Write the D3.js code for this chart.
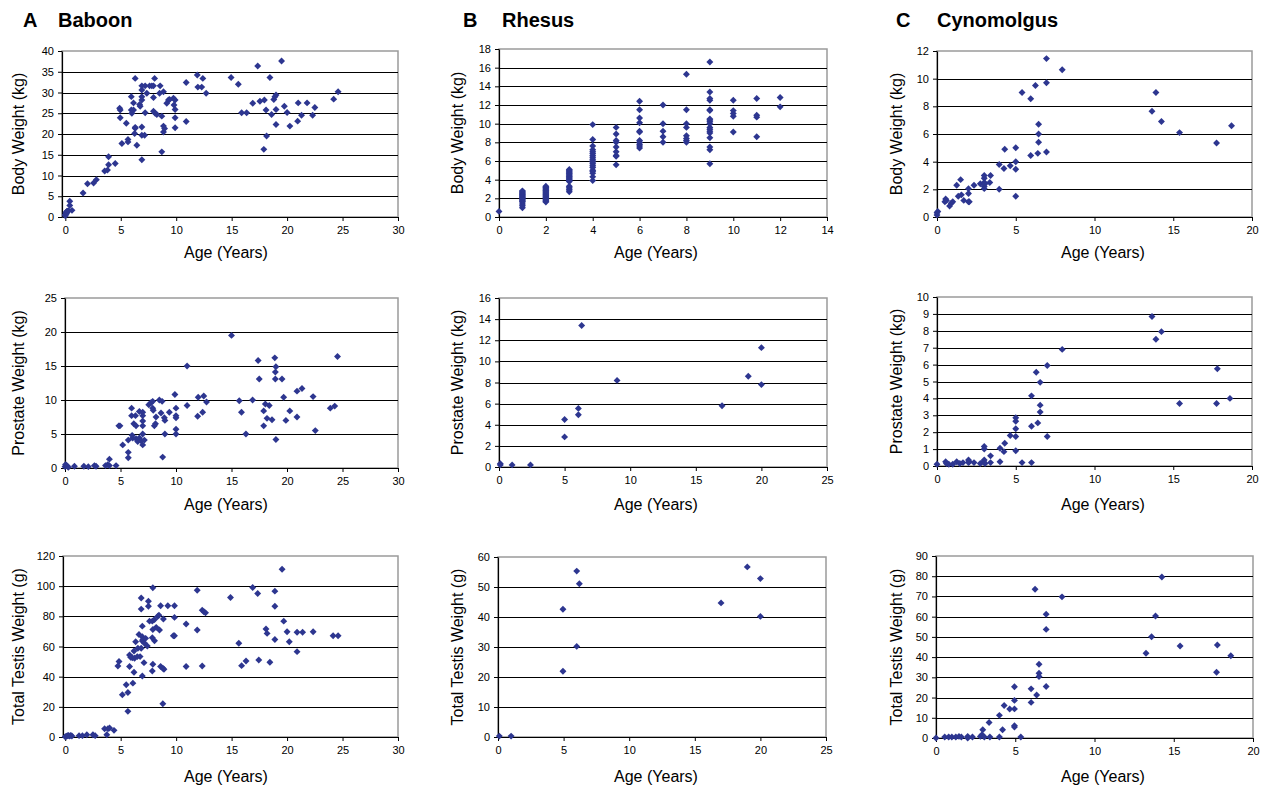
<!DOCTYPE html>
<html>
<head>
<meta charset="utf-8">
<script src="https://cdn.jsdelivr.net/npm/d3@7"></script>
<style>
  body { margin: 0; background: #fff; }
  svg { display: block; font-family: "Liberation Sans", Arial, sans-serif; }
</style>
</head>
<body>
<div id="chart"></div>
<script>

// species titles and axis labels
const letters = ['A', 'B', 'C'];
const species = ['Baboon', 'Rhesus', 'Cynomolgus'];
const yLabels = ['Body Weight (kg)', 'Prostate Weight (kg)', 'Total Testis Weight (g)'];
const xLabel = 'Age (Years)';

// tick values per panel (row by row)
const xTicks30 = [0, 5, 10, 15, 20, 25, 30];
const xTicks25 = [0, 5, 10, 15, 20, 25];
const xTicks20 = [0, 5, 10, 15, 20];
const xTicks14 = [0, 2, 4, 6, 8, 10, 12, 14];

const yTicksBabBody = [0, 5, 10, 15, 20, 25, 30, 35, 40];
const yTicksRheBody = [0, 2, 4, 6, 8, 10, 12, 14, 16, 18];
const yTicksCynBody = [0, 2, 4, 6, 8, 10, 12];
const yTicksBabPros = [0, 5, 10, 15, 20, 25];
const yTicksRhePros = [0, 2, 4, 6, 8, 10, 12, 14, 16];
const yTicksCynPros = [0, 1, 2, 3, 4, 5, 6, 7, 8, 9, 10];
const yTicksBabTest = [0, 20, 40, 60, 80, 100, 120];
const yTicksRheTest = [0, 10, 20, 30, 40, 50, 60];
const yTicksCynTest = [0, 10, 20, 30, 40, 50, 60, 70, 80, 90];

// data: [age (years), weight]
const baboonBody = [[0,0.3],[0,0.6],[0.05,1.0],[0.1,1.2],[0.2,1.4],[0.3,1.5],[0.1,0.8],[0.4,3.8],[0.4,2.8],[0.6,1.6],[0.15,1.4],
  [1.6,5.8],[2.0,8.0],[2.55,8.2],[2.8,9.0],[3.55,11.1],[3.8,11.3],[3.9,14.5],[3.9,12.6],[4.5,12.9],
  [4.95,25.8],[4.9,26.2],[4.95,23.9],[5.1,17.7],[5.5,22.6],[5.65,18.1],[5.65,18.7],[5.95,29.0],[5.95,25.8],[6.0,25.0],
  [6.15,25.8],[6.15,27.5],[6.25,20.1],[6.3,21.4],[6.3,21.6],[6.3,33.4],[6.45,17.3],[6.7,27.1],[6.75,26.7],[6.9,28.2],
  [6.9,30.6],[6.9,31.6],[6.9,29.0],[6.9,21.7],[6.9,13.8],[6.9,19.7],[7.2,31.6],[7.15,19.7],[7.2,25.1],[7.6,31.6],
  [7.35,29.8],[7.8,31.6],[7.95,31.6],[7.95,28.8],[8.05,33.4],[7.95,25.5],[8.1,25.0],[8.25,24.7],[8.5,29.8],[8.55,31.6],
  [8.7,24.3],[8.7,15.7],[8.85,30.2],[8.85,21.9],[8.85,20.5],[8.95,21.3],[9.15,27.4],[9.3,28.2],[9.4,28.3],[9.75,28.6],
  [9.9,28.2],[9.8,27.0],[9.9,25.9],[9.9,23.9],[9.9,21.5],[10.9,23.0],[10.9,32.4],[11.9,34.2],[11.95,31.3],[12.3,31.3],
  [12.4,33.4],[12.7,29.8],[14.95,33.6],[15.6,32.0],[15.9,25.1],[16.35,25.1],[16.9,27.4],[17.35,36.4],[17.55,27.9],[17.95,28.2],
  [17.9,16.3],[18.1,25.8],[18.15,19.5],[18.45,33.6],[18.6,24.7],[18.8,28.3],[18.9,29.0],[19.0,29.4],[19.0,25.9],[19.0,22.3],
  [19.5,37.6],[19.75,26.7],[20.0,25.2],[20.25,21.9],[20.95,23.1],[21.0,27.5],[21.3,24.5],[21.8,27.5],[22.3,24.5],[22.5,26.4],
  [24.2,28.4],[24.6,30.2]];

const rhesusBody = [[0,0.6],
  [1,1.0],[1,1.2],[1,1.4],[1,1.6],[1,1.7],[1,1.8],[1,1.9],[1,2.0],[1,2.1],[1,2.2],[1,2.3],[1,2.4],[1,2.5],[1,2.6],[1,2.7],[1,2.8],
  [2,1.6],[2,1.7],[2,1.8],[2,1.9],[2,2.0],[2,2.1],[2,2.2],[2,2.3],[2,2.4],[2,2.5],[2,2.6],[2,2.7],[2,2.8],[2,2.9],[2,3.0],[2,3.1],[2,3.2],[2,3.3],
  [3,2.7],[3,2.9],[3,3.0],[3,3.2],[3,3.3],[3,3.8],[3,3.9],[3,4.0],[3,4.1],[3,4.2],[3,4.3],[3,4.4],[3,4.5],[3,4.6],[3,4.7],[3,4.8],[3,4.9],[3,5.0],[3,5.1],
  [4,3.9],[4,4.3],[4,4.7],[4,4.9],[4,5.0],[4,5.3],[4,5.5],[4,5.7],[4,5.9],[4,6.0],[4,6.2],[4,6.4],[4,6.6],[4,6.8],[4,7.0],[4,7.2],[4,7.6],[4,8.3],[4,9.9],
  [5,5.6],[5,6.5],[5,6.6],[5,7.0],[5,7.5],[5,8.0],[5,8.2],[5,8.9],[5,9.6],
  [6,7.4],[6,7.6],[6,7.8],[6,8.0],[6,8.2],[6,9.1],[6,9.2],[6,10.1],[6,10.6],[6,11.5],[6,12.4],
  [7,8.0],[7,8.6],[7,9.2],[7,10.0],[7,12.0],
  [8,8.0],[8,8.2],[8,8.4],[8,8.7],[8,9.6],[8,10.0],[8,11.5],[8,15.3],
  [9,5.7],[9,7.2],[9,7.5],[9,8.5],[9,9.0],[9,9.2],[9,9.4],[9,9.6],[9,10.0],[9,10.2],[9,10.4],[9,10.5],[9,11.4],[9,11.5],[9,12.5],[9,12.7],[9,13.4],[9,16.6],
  [10,9.1],[10,10.8],[10,11.1],[10,11.4],[10,12.5],
  [11,8.6],[11,10.7],[11,10.9],[11,12.7],
  [12,11.8],[12,12.8]];

const cynoBody = [[0,0.3],[0.05,0.4],[0,0.15],[0.5,1.1],[0.55,1.3],[0.6,1.2],[0.8,0.8],[0.9,1.0],[1.0,1.1],[1.25,2.3],
  [1.35,1.5],[1.5,2.7],[1.55,1.6],[1.7,1.2],[2.0,1.1],[2.0,1.7],[2.0,2.05],[2.05,1.1],[2.35,2.3],[2.75,2.4],
  [3.0,3.0],[3.0,2.8],[3.0,2.5],[3.0,2.2],[3.0,2.05],[3.05,2.4],[3.35,2.5],[3.4,3.0],[3.95,3.8],[3.95,2.0],
  [4.25,3.5],[4.3,4.9],[4.65,3.7],[5.0,5.0],[5.0,4.0],[5.0,3.45],[5.0,1.5],[5.4,9.0],[5.95,4.45],[5.95,8.55],
  [6.25,9.5],[6.4,4.6],[6.45,6.7],[6.45,6.0],[6.45,5.4],[6.95,11.45],[6.95,9.7],[6.95,4.7],[7.95,10.65],
  [13.65,7.65],[13.9,9.0],[14.25,6.9],[15.4,6.1],[17.75,5.35],[18.7,6.6]];

const baboonProstate = [[0,0.2],[0.1,0.4],[0.2,0.3],[0.3,0.1],[0.05,0.5],[0.85,0.25],[1.7,0.25],[2.1,0.2],[2.65,0.35],[2.8,0.25],
  [3.65,0.35],[3.85,0.5],[4.0,1.3],[4.0,0.35],[4.6,0.35],[4.85,6.2],[4.95,6.2],[5.2,3.4],[5.7,2.3],[5.7,1.5],
  [5.7,4.1],[6.0,8.8],[6.0,7.7],[6.05,4.8],[6.1,4.4],[6.2,6.5],[6.35,7.7],[6.4,6.2],[6.4,4.3],[6.55,3.9],
  [6.7,8.3],[6.7,4.4],[6.85,4.0],[7.0,5.0],[7.0,3.4],[7.0,6.2],[7.0,6.9],[7.0,7.7],[7.0,8.2],[7.15,4.1],
  [7.55,9.3],[7.75,9.6],[7.9,8.8],[7.95,8.5],[7.9,9.8],[8.05,6.2],[8.15,6.5],[8.2,7.5],[8.5,10.0],[8.65,8.1],
  [8.75,9.8],[8.8,1.6],[8.95,7.4],[9.0,7.0],[9.0,5.0],[9.4,8.2],[9.9,10.8],[10.0,8.8],[10.0,7.7],[10.0,7.4],
  [10.0,5.7],[10.0,5.0],[11.0,9.2],[11.0,15.0],[11.95,7.6],[12.0,10.4],[12.4,8.2],[12.5,10.6],[12.75,9.7],[15.0,19.5],
  [15.7,9.9],[15.9,8.2],[16.3,5.0],[16.9,10.0],[17.4,15.8],[17.5,13.1],[17.9,8.4],[17.9,6.2],[18.05,9.4],[18.2,7.3],
  [18.4,9.2],[18.65,7.1],[18.9,16.2],[19.0,14.9],[18.95,14.1],[18.95,13.1],[19.0,4.2],[19.55,13.1],[19.7,10.4],[19.9,7.0],
  [20.25,8.4],[20.9,11.3],[21.35,11.7],[20.9,7.5],[22.35,10.5],[22.55,5.5],[23.9,8.8],[24.3,9.1],[24.55,16.4]];

const rhesusProstate = [[0.1,0.3],[0.1,0.2],[1.0,0.2],[2.4,0.2],[5.0,4.5],[5.0,2.85],[6.05,5.55],[6.05,4.95],
  [6.3,13.4],[9.0,8.2],[17.0,5.8],[19.0,8.6],[20.0,7.8],[20.0,11.3]];

const cynoProstate = [[0,0.1],[0.55,0.25],[0.6,0.15],[0.75,0.1],[1.0,0.1],[1.25,0.25],[1.45,0.15],[1.65,0.2],[2.0,0.35],[2.0,0.2],
  [2.05,0.25],[2.35,0.2],[2.75,0.15],[2.95,0.25],[3.0,1.15],[3.0,1.0],[3.0,0.35],[3.05,0.15],[3.4,0.6],[3.4,0.2],
  [4.0,0.25],[4.0,1.05],[4.25,0.85],[4.3,1.35],[4.65,1.8],[5.0,2.85],[5.0,2.65],[5.0,2.2],[5.0,1.75],[5.0,0.9],
  [5.4,0.2],[6.0,0.2],[6.0,2.35],[6.0,4.15],[6.3,5.55],[6.4,2.55],[6.55,4.95],[6.55,3.6],[6.55,3.2],[7.0,1.75],
  [7.0,5.95],[7.95,6.9],[13.65,8.85],[13.9,7.5],[14.25,7.95],[15.4,3.7],[17.75,3.7],[17.8,5.75],[18.6,4.0]];

const baboonTestis = [[0,0.2],[0.1,0.5],[0.2,0.8],[0.3,1.0],[0.4,0.6],[0.5,1.1],[0.6,0.7],[1.25,0.9],[1.55,0.9],[1.95,1.5],
  [2.5,1.5],[2.7,0.9],[3.55,5.5],[3.75,1.5],[3.85,5.5],[4.0,6.0],[4.4,4.4],[4.75,47.1],[4.85,50.0],[5.15,28.0],
  [5.5,34.6],[5.65,29.5],[5.65,17.0],[5.8,46.7],[5.8,54.4],[5.9,52.8],[6.05,52.6],[6.1,35.7],[6.2,42.9],[6.2,57.0],
  [6.25,52.2],[6.35,63.2],[6.5,53.3],[6.55,58.8],[6.65,68.0],[6.75,53.3],[6.85,58.8],[6.95,63.6],[6.95,66.5],[6.95,40.5],
  [6.85,92.2],[6.85,84.8],[6.95,73.5],[7.0,64.7],[7.1,49.3],[7.15,62.1],[7.25,65.4],[7.4,60.3],[7.5,90.0],[7.5,86.7],
  [7.6,76.8],[7.85,76.8],[7.85,65.8],[7.9,71.3],[7.9,48.2],[7.85,43.8],[7.9,98.9],[8.05,77.9],[8.05,63.8],[8.2,72.7],
  [8.35,80.1],[8.45,80.8],[8.5,70.9],[8.6,87.0],[8.6,46.7],[8.8,45.6],[8.85,78.2],[8.8,22.0],[8.9,44.9],[9.25,87.0],
  [9.75,67.1],[9.85,87.0],[9.85,79.3],[9.85,67.1],[10.9,74.9],[10.9,46.7],[11.9,97.3],[11.9,70.9],[12.35,47.1],[12.35,84.1],
  [12.5,83.0],[12.65,82.3],[14.9,92.5],[15.65,62.1],[15.9,47.3],[16.3,50.4],[16.9,99.1],[17.35,95.1],[17.45,51.1],[18.45,49.5],
  [18.9,86.7],[18.9,96.7],[18.9,64.7],[18.1,71.6],[18.2,68.7],[19.55,111.2],[19.7,76.8],[20.0,69.8],[20.2,63.2],[20.9,56.6],
  [20.9,69.4],[21.4,69.4],[22.35,69.8],[24.15,67.1],[24.6,67.1]];

const rhesusTestis = [[0.1,0.3],[1.0,0.3],[4.95,21.9],[4.95,42.6],[6.0,30.2],[6.0,55.3],[6.2,51.1],[17.0,44.7],
  [19.0,56.7],[20.0,52.8],[20.0,40.2]];

const cynoTestis = [[0,0],[0.55,0.5],[0.8,0.5],[1.0,0.5],[1.25,0.5],[1.45,0.8],[1.6,0.5],[2.0,0.8],[2.0,0],[2.3,0.5],
  [2.8,0.8],[2.9,1.6],[2.95,4.1],[3.05,0.5],[3.35,7.7],[3.4,0.5],[4.0,11.2],[4.0,0.5],[4.2,4.1],[4.3,16.1],
  [4.65,14.3],[4.95,25.3],[4.95,18.6],[4.95,14.4],[4.95,6.1],[4.95,5.4],[5.35,0.5],[6.0,24.3],[6.0,17.6],[6.25,73.6],
  [6.35,21.3],[6.5,36.5],[6.5,32.0],[6.5,30.4],[6.95,25.5],[6.95,53.7],[6.95,61.2],[7.95,69.8],[13.25,41.9],[13.6,50.1],
  [13.85,60.3],[14.25,79.6],[15.4,45.5],[17.75,46.0],[17.7,32.5],[18.6,40.7]];


// layout of the nine plot areas
const colYLabelX = [18, 457, 896];
const colXLabelX = [226, 656, 1103];
const rowXLabelY = [258, 510, 782];

const panels = [
  {row: 0, col: 0, data: baboonBody, xd: [-0.3, 30], xt: xTicks30, yt: yTicksBabBody, box: [62, 398, 51, 217]},
  {row: 0, col: 1, data: rhesusBody, xd: [0, 14], xt: xTicks14, yt: yTicksRheBody, box: [499, 827, 49, 217]},
  {row: 0, col: 2, data: cynoBody, xd: [0, 20], xt: xTicks20, yt: yTicksCynBody, box: [937, 1252, 51, 217]},
  {row: 1, col: 0, data: baboonProstate, xd: [0, 30], xt: xTicks30, yt: yTicksBabPros, box: [65, 398, 298, 468]},
  {row: 1, col: 1, data: rhesusProstate, xd: [0, 25], xt: xTicks25, yt: yTicksRhePros, box: [499, 827, 298, 467]},
  {row: 1, col: 2, data: cynoProstate, xd: [0, 20], xt: xTicks20, yt: yTicksCynPros, box: [937, 1252, 297, 466]},
  {row: 2, col: 0, data: baboonTestis, xd: [-0.2, 30], xt: xTicks30, yt: yTicksBabTest, box: [63, 398, 556, 737]},
  {row: 2, col: 1, data: rhesusTestis, xd: [0, 25], xt: xTicks25, yt: yTicksRheTest, box: [498, 826, 557, 737]},
  {row: 2, col: 2, data: cynoTestis, xd: [0, 20], xt: xTicks20, yt: yTicksCynTest, box: [936, 1253, 556, 738]}
];

const markColor = '#2d3690';

const svg = d3.select('#chart')
  .append('svg')
  .attr('width', 1268)
  .attr('height', 787);

// panel titles
const titleX = [[23, 58], [463, 502], [896, 937]];
letters.forEach((l, i) => {
  svg.append('text')
    .attr('x', titleX[i][0]).attr('y', 27)
    .attr('font-size', 20).attr('font-weight', 'bold')
    .text(l);
  svg.append('text')
    .attr('x', titleX[i][1]).attr('y', 27)
    .attr('font-size', 20).attr('font-weight', 'bold')
    .text(species[i]);
});

panels.forEach(p => {
  let [left, right, top, bottom] = p.box;
  let yMax = p.yt[p.yt.length - 1];

  let x = d3.scaleLinear().domain(p.xd).range([left, right]);
  let y = d3.scaleLinear().domain([0, yMax]).range([bottom, top]);

  let g = svg.append('g');

  // gray frame (top and right)
  g.append('rect')
    .attr('x', left).attr('y', top)
    .attr('width', right - left).attr('height', bottom - top)
    .attr('fill', 'none')
    .attr('stroke', '#9a9a9a')
    .attr('stroke-width', 1.5);

  // horizontal grid lines
  g.selectAll('.grid')
    .data(p.yt.filter(v => v > 0 && v < yMax))
    .join('line')
    .attr('x1', left).attr('x2', right)
    .attr('y1', d => Math.round(y(d)) + 0.5)
    .attr('y2', d => Math.round(y(d)) + 0.5)
    .attr('stroke', '#000')
    .attr('stroke-width', 1.2);

  // axes
  let yAxis = g.append('g')
    .attr('transform', `translate(${left},0)`)
    .call(d3.axisLeft(y).tickValues(p.yt).tickSize(4).tickSizeOuter(0).tickPadding(4));
  let xAxis = g.append('g')
    .attr('transform', `translate(0,${bottom})`)
    .call(d3.axisBottom(x).tickValues(p.xt).tickSize(4).tickSizeOuter(0).tickPadding(5));

  [yAxis, xAxis].forEach(a => {
    a.select('.domain').attr('stroke', '#000').attr('stroke-width', 1.2);
    a.selectAll('.tick line').attr('stroke', '#000');
    a.selectAll('.tick text')
      .attr('font-family', '"Liberation Sans", Arial, sans-serif')
      .attr('font-size', 11)
      .attr('fill', '#000');
  });

  // diamond markers
  g.selectAll('.pt')
    .data(p.data)
    .join('path')
    .attr('d', d3.symbol(d3.symbolSquare, 24))
    .attr('transform', d => `translate(${x(d[0])},${y(d[1])}) rotate(45)`)
    .attr('fill', markColor);

  // axis titles
  g.append('text')
    .attr('transform', `translate(${colYLabelX[p.col]},${(top + bottom) / 2}) rotate(-90)`)
    .attr('text-anchor', 'middle')
    .attr('dy', '0.35em')
    .attr('font-size', 16)
    .text(yLabels[p.row]);

  g.append('text')
    .attr('x', colXLabelX[p.col])
    .attr('y', rowXLabelY[p.row])
    .attr('text-anchor', 'middle')
    .attr('font-size', 16)
    .text(xLabel);
});

</script>
</body>
</html>
